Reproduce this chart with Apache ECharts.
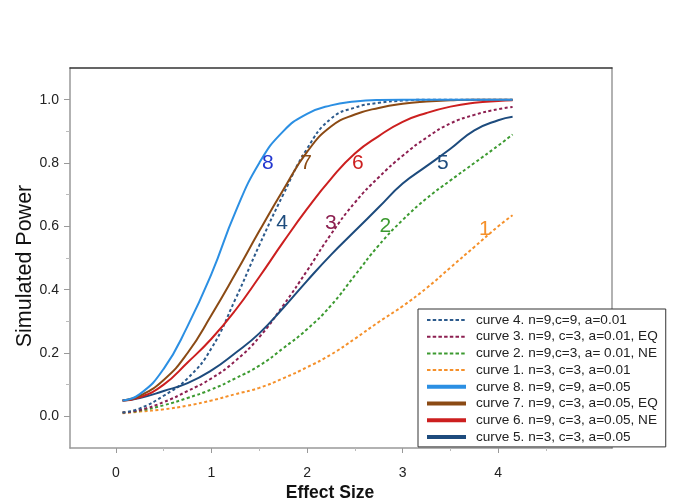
<!DOCTYPE html>
<html>
<head>
<meta charset="utf-8">
<script src="https://cdn.jsdelivr.net/npm/echarts@6/dist/echarts.min.js"></script>
<style>html,body{margin:0;padding:0;background:#fff;}#c{width:685px;height:504px;}</style>
</head>
<body>
<div id="c"></div>
<script>
var effectSize = [0.07, 0.25, 0.5, 0.75, 1.0, 1.25, 1.5, 1.75, 2.0, 2.25, 2.5, 2.75, 3.0, 3.25, 3.5, 3.75, 4.0, 4.15];
var curve8 = [0.05, 0.07, 0.15, 0.285, 0.45, 0.645, 0.80, 0.90, 0.955, 0.982, 0.994, 0.999, 1, 1, 1, 1, 1, 1];
var curve7 = [0.05, 0.065, 0.115, 0.20, 0.32, 0.45, 0.585, 0.715, 0.835, 0.915, 0.953, 0.974, 0.987, 0.994, 0.998, 1, 1, 1];
var curve6 = [0.05, 0.06, 0.10, 0.17, 0.245, 0.335, 0.44, 0.55, 0.655, 0.75, 0.83, 0.885, 0.93, 0.958, 0.978, 0.99, 0.996, 0.998];
var curve5 = [0.05, 0.058, 0.08, 0.105, 0.145, 0.20, 0.262, 0.342, 0.428, 0.51, 0.585, 0.66, 0.735, 0.79, 0.845, 0.903, 0.935, 0.946];
var curve4 = [0.012, 0.025, 0.065, 0.12, 0.215, 0.37, 0.54, 0.70, 0.845, 0.94, 0.975, 0.99, 0.997, 1, 1, 1, 1, 1];
var curve3 = [0.012, 0.02, 0.045, 0.08, 0.12, 0.175, 0.25, 0.35, 0.46, 0.575, 0.675, 0.755, 0.823, 0.88, 0.925, 0.952, 0.97, 0.977];
var curve2 = [0.012, 0.018, 0.035, 0.058, 0.085, 0.12, 0.16, 0.215, 0.275, 0.35, 0.445, 0.54, 0.62, 0.688, 0.745, 0.80, 0.855, 0.89];
var curve1 = [0.01, 0.015, 0.022, 0.034, 0.05, 0.07, 0.09, 0.12, 0.155, 0.195, 0.245, 0.298, 0.348, 0.405, 0.47, 0.535, 0.60, 0.635];

var legendNames = {
  c4: 'curve 4. n=9,c=9, a=0.01',
  c3: 'curve 3. n=9, c=3, a=0.01, EQ',
  c2: 'curve 2. n=9,c=3, a= 0.01, NE',
  c1: 'curve 1. n=3, c=3, a=0.01',
  c8: 'curve 8. n=9, c=9, a=0.05',
  c7: 'curve 7. n=9, c=3, a=0.05, EQ',
  c6: 'curve 6. n=9, c=3, a=0.05, NE',
  c5: 'curve 5. n=3, c=3, a=0.05'
};
var curveLabels = ['8', '7', '6', '5', '4', '3', '2', '1'];
var curveLabelX = [1.59, 1.99, 2.53, 3.42, 1.74, 2.25, 2.82, 3.86];
var curveLabelY = [0.80, 0.80, 0.80, 0.80, 0.61, 0.61, 0.60, 0.59];
var xTickLabels = [0, 1, 2, 3, 4];
var yTickLabels = [0, 0.2, 0.4, 0.6, 0.8, 1.0];

var FONT = '"Liberation Sans", Arial, Helvetica, sans-serif';
var X_MIN = -0.48, X_MAX = 5.19, Y_MIN = -0.1, Y_MAX = 1.1;

function pairs(ys) { return effectSize.map(function (x, i) { return [x, ys[i]]; }); }

var styles = {
  c8: {color: '#2b8fe3', dash: 'solid'},
  c7: {color: '#8b4a14', dash: 'solid'},
  c6: {color: '#cc1f1f', dash: 'solid'},
  c5: {color: '#1d4b7d', dash: 'solid'},
  c4: {color: '#2c5a8c', dash: [3, 2.5]},
  c3: {color: '#8c1f50', dash: [3, 2.5]},
  c2: {color: '#3c9a30', dash: [3, 2.5]},
  c1: {color: '#f5902a', dash: [3, 2.5]}
};
var labelColors = ['#2236d0', '#8b4a14', '#cc1f1f', '#1d4b7d', '#1d4b7d', '#8c1f50', '#3c9a30', '#f5902a'];
var curveData = {c8: curve8, c7: curve7, c6: curve6, c5: curve5, c4: curve4, c3: curve3, c2: curve2, c1: curve1};

var series = [];
['c1', 'c2', 'c3', 'c4', 'c5', 'c6', 'c7', 'c8'].forEach(function (k) {
  series.push({
    name: legendNames[k],
    type: 'line',
    xAxisIndex: 0, yAxisIndex: 0,
    data: pairs(curveData[k]),
    smooth: 0.5,
    symbol: 'none',
    color: styles[k].color,
    lineStyle: {color: styles[k].color, width: 2, type: styles[k].dash},
    emphasis: {disabled: true},
    silent: true,
    z: 3
  });
});
series.push({
  type: 'scatter',
  name: 'labels',
  xAxisIndex: 0, yAxisIndex: 0,
  symbolSize: 1,
  silent: true,
  z: 4,
  itemStyle: {opacity: 0},
  data: curveLabels.map(function (t, i) {
    return {
      value: [curveLabelX[i], curveLabelY[i]],
      label: {show: true, position: 'inside', formatter: t, color: labelColors[i], opacity: 1, fontSize: 21, fontFamily: FONT}
    };
  })
});

var legendOrder = ['c4', 'c3', 'c2', 'c1', 'c8', 'c7', 'c6', 'c5'];
var legendData = legendOrder.map(function (k) {
  var solid = styles[k].dash === 'solid';
  return {
    name: legendNames[k],
    itemStyle: {opacity: 0},
    lineStyle: {color: styles[k].color, width: solid ? 4 : 2, type: solid ? 'solid' : [3.5, 2.2], opacity: 1}
  };
});

var axisCommon = {type: 'value', min: X_MIN, max: X_MAX, splitLine: {show: false}};
var yCommon = {type: 'value', min: Y_MIN, max: Y_MAX, splitLine: {show: false}};

var option = {
  backgroundColor: '#ffffff',
  animation: false,
  grid: {left: 70, right: 73, top: 68, bottom: 56, show: false, outerBoundsMode: 'none', containLabel: false},
  legend: {
    orient: 'vertical',
    left: 418, top: 309,
    width: 249,
    padding: [4, 8, 3, 7],
    backgroundColor: '#ffffff',
    borderColor: '#333333',
    borderWidth: 1,
    itemWidth: 39,
    itemHeight: 14,
    itemGap: 2.7,
    textStyle: {fontFamily: FONT, fontSize: 13.6, color: '#222', padding: [0, 0, 0, 5]},
    data: legendData,
    selectedMode: false,
    z: 10
  },
  xAxis: [
    Object.assign({}, axisCommon, {
      position: 'bottom',
      name: 'Effect Size', nameLocation: 'middle', nameGap: 36, nameMoveOverlap: false,
      nameTextStyle: {fontFamily: FONT, fontSize: 17.5, fontWeight: 'bold', color: '#111', padding: [0, 22, 0, 0]},
      axisLine: {show: true, onZero: false, lineStyle: {color: '#999', width: 1.5}},
      axisTick: {show: true, length: 5, customValues: xTickLabels, lineStyle: {color: '#999', width: 1}},
      axisLabel: {show: true, customValues: xTickLabels, margin: 18, fontFamily: FONT, fontSize: 14, color: '#222'}
    }),
    Object.assign({}, axisCommon, {
      position: 'bottom',
      axisLine: {show: false, onZero: false},
      axisTick: {show: true, length: 3, customValues: [0.5, 1.5, 2.5, 3.5, 4.5], lineStyle: {color: '#bbb', width: 1}},
      axisLabel: {show: false}
    }),
    Object.assign({}, axisCommon, {
      position: 'top',
      axisLine: {show: true, onZero: false, lineStyle: {color: '#333', width: 1.5}},
      axisTick: {show: false},
      axisLabel: {show: false}
    })
  ],
  yAxis: [
    Object.assign({}, yCommon, {
      position: 'left',
      name: 'Simulated Power', nameLocation: 'middle', nameGap: 34, nameRotate: 90, nameMoveOverlap: false,
      nameTextStyle: {fontFamily: FONT, fontSize: 21.5, color: '#111', padding: [0, 16, 0, 0]},
      axisLine: {show: true, onZero: false, lineStyle: {color: '#999', width: 1.5}},
      axisTick: {show: true, length: 6, customValues: yTickLabels, lineStyle: {color: '#999', width: 1}},
      axisLabel: {show: true, customValues: yTickLabels, margin: 11, fontFamily: FONT, fontSize: 14, color: '#222',
        formatter: function (v) { return v.toFixed(1); }}
    }),
    Object.assign({}, yCommon, {
      position: 'left',
      axisLine: {show: false, onZero: false},
      axisTick: {show: true, length: 4, customValues: [0.1, 0.3, 0.5, 0.7, 0.9], lineStyle: {color: '#bbb', width: 1}},
      axisLabel: {show: false}
    }),
    Object.assign({}, yCommon, {
      position: 'right',
      axisLine: {show: true, onZero: false, lineStyle: {color: '#999', width: 1.5}},
      axisTick: {show: false},
      axisLabel: {show: false}
    })
  ],
  series: series
};

var chart = echarts.init(document.getElementById('c'), null, {renderer: 'canvas'});
chart.setOption(option);
</script>
</body>
</html>
